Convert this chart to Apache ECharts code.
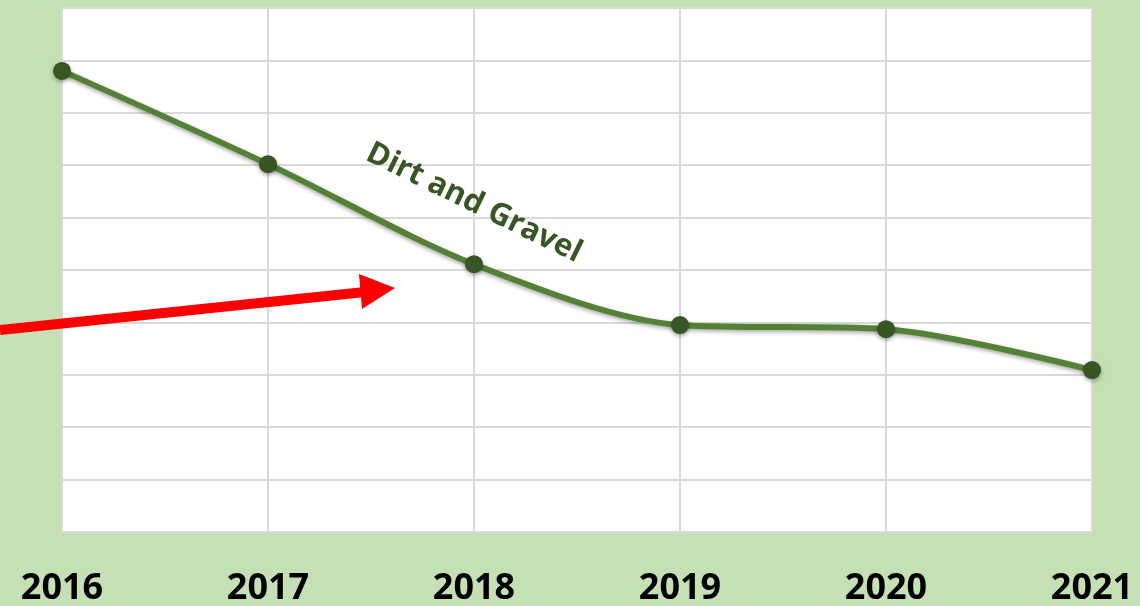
<!DOCTYPE html>
<html>
<head>
<meta charset="utf-8">
<script src="https://cdn.jsdelivr.net/npm/echarts@6/dist/echarts.min.js"></script>
<style>
html, body { margin: 0; padding: 0; background: #c5e0b4; }
#chart { width: 1140px; height: 606px; }
</style>
</head>
<body>
<div id="chart"></div>
<script>
var years = ['2016', '2017', '2018', '2019', '2020', '2021'];
var dirtGravel = [8.8, 7.02, 5.11, 3.95, 3.87, 3.09];
var yMin = 0, yMax = 10, yStep = 1;

var chart = echarts.init(document.getElementById('chart'));
var option = {
    backgroundColor: '#c5e0b4',
    grid: {
        left: 62,
        right: 48,
        top: 8,
        bottom: 74,
        outerBoundsMode: 'none',
        show: true,
        backgroundColor: '#ffffff',
        borderWidth: 0
    },
    xAxis: {
        type: 'category',
        data: years,
        boundaryGap: false,
        axisLine: { show: false },
        axisTick: { show: false },
        axisLabel: {
            margin: 39,
            color: '#000',
            fontFamily: 'Open Sans',
            fontWeight: 'bold',
            fontSize: 36
        },
        splitLine: { show: true, lineStyle: { color: '#d9d9d9', width: 2 } }
    },
    yAxis: {
        type: 'value',
        min: yMin,
        max: yMax,
        interval: yStep,
        axisLine: { show: false },
        axisTick: { show: false },
        axisLabel: { show: false },
        splitLine: { show: true, lineStyle: { color: '#d9d9d9', width: 2 } }
    },
    series: [{
        name: 'Dirt and Gravel',
        type: 'line',
        data: dirtGravel,
        smooth: 0.3,
        symbol: 'circle',
        symbolSize: 18,
        itemStyle: {
            color: '#375623',
            shadowColor: 'rgba(0,0,0,0.35)',
            shadowBlur: 4,
            shadowOffsetY: 2
        },
        lineStyle: {
            color: '#548235',
            width: 6,
            shadowColor: 'rgba(0,0,0,0.35)',
            shadowBlur: 4,
            shadowOffsetY: 2
        }
    }],
    graphic: [
        {
            type: 'text',
            z: 100,
            x: 474,
            y: 203,
            rotation: -26 * Math.PI / 180,
            style: {
                text: 'Dirt and Gravel',
                fill: '#375623',
                fontFamily: 'Open Sans',
                fontWeight: 'bold',
                fontSize: 31,
                align: 'center',
                verticalAlign: 'middle'
            }
        },
        {
            type: 'line',
            z: 100,
            shape: { x1: 0, y1: 330, x2: 365, y2: 292 },
            style: { stroke: '#ff0000', lineWidth: 10 }
        },
        {
            type: 'polygon',
            z: 100,
            shape: { points: [[395, 288], [359, 274], [362, 309]] },
            style: { fill: '#ff0000' }
        }
    ]
};
chart.setOption(option);
</script>
</body>
</html>
